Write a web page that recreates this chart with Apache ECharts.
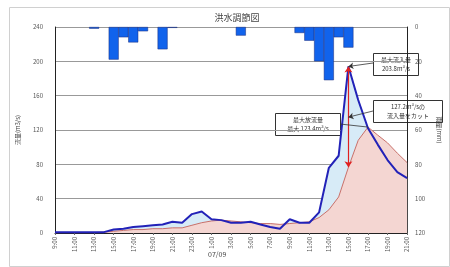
<!DOCTYPE html>
<html>
<head>
<meta charset="utf-8">
<script src="https://cdn.jsdelivr.net/npm/echarts@6/dist/echarts.min.js"></script>
<style>
html, body { margin: 0; padding: 0; background: #fff; }
#chart { width: 450px; height: 267px; }
</style>
</head>
<body>
<div id="chart"></div>
<script>
// 9:00 ～ 翌21:00 の毎時
const hours = []
for (let h = 9; h <= 45; h++) hours.push((h % 24) + ':00')

// 流入量 (m3/s)
const inflow = [1, 1, 1, 1, 1, 1, 4, 5, 7, 8, 9, 10, 13, 12, 22, 25, 16, 15, 12, 12,
  13, 10, 7, 5, 16, 12, 12, 24, 76, 90, 194, 155, 122, 103, 85, 71, 64]
// 放流量 (m3/s)
const outflow = [0.5, 0.5, 0.5, 0.5, 0.5, 1, 2, 3, 4, 4, 5, 5, 6, 6, 9, 12, 14, 15, 14, 13,
  12, 11, 11, 10, 11, 12, 13, 18, 27, 42, 76.6, 108, 123.4, 114, 105, 93, 82]
// 雨量 (mm)
const rain = [0, 0, 0, 0, 1, 0, 19, 6, 9, 2.5, 0, 13, 0.5, 0, 0, 0, 0, 0, 0, 5,
  0, 0, 0, 0, 0, 3.5, 8, 20, 31, 6, 12, 0, 0, 0, 0, 0, 0]

const leftTicks = { min: 0, max: 240, interval: 40 }
const rightTicks = { min: 0, max: 120, interval: 20 }

const font = '"Noto Sans CJK JP", "Noto Sans", sans-serif'
const peakIdx = inflow.indexOf(Math.max(...inflow))
const outPeakIdx = outflow.indexOf(Math.max(...outflow))

const chart = echarts.init(document.getElementById('chart'))

function box (x, y, w, h, text) {
  return {
    type: 'group',
    left: x,
    top: y,
    z: 100,
    children: [
      { type: 'rect', shape: { x: 0, y: 0, width: w, height: h }, style: { fill: '#fff', stroke: '#333', lineWidth: 1 } },
      { type: 'text', x: w / 2, y: h / 2, style: { text, fill: '#333', font: '6px ' + font, align: 'center', verticalAlign: 'middle', lineHeight: 9 } }
    ]
  }
}

const option = {
  animation: false,
  textStyle: { fontFamily: font },
  title: {
    text: '洪水調節図',
    left: 232,
    top: 8,
    textAlign: 'center',
    textStyle: { fontSize: 9, fontWeight: 'normal', color: '#444' }
  },
  grid: { left: 55, right: 33, top: 27, bottom: 34 },
  xAxis: {
    type: 'category',
    data: hours,
    boundaryGap: false,
    axisLine: { lineStyle: { color: '#222' } },
    axisTick: { interval: 1, length: 2, lineStyle: { color: '#666' } },
    axisLabel: { interval: 1, rotate: 90, fontSize: 6, color: '#555', margin: 4 }
  },
  yAxis: [
    {
      type: 'value',
      ...leftTicks,
      name: '流量(m3/s)',
      nameLocation: 'middle',
      nameGap: 34,
      nameRotate: 90,
      nameTextStyle: { fontSize: 6, color: '#444' },
      axisLine: { show: true, lineStyle: { color: '#222' } },
      axisTick: { show: false },
      axisLabel: { fontSize: 6, color: '#555', margin: 12 },
      splitLine: { lineStyle: { color: '#999' } }
    },
    {
      type: 'value',
      ...rightTicks,
      inverse: true,
      name: '雨量(mm)',
      nameLocation: 'middle',
      nameGap: 20,
      nameRotate: -90,
      nameTextStyle: { fontSize: 6, color: '#444' },
      axisLine: { show: true, lineStyle: { color: '#222' } },
      axisTick: { show: false },
      axisLabel: { fontSize: 6, color: '#555', margin: 8 },
      splitLine: { show: false }
    }
  ],
  series: [
    {
      name: '流入量面',
      type: 'line',
      data: inflow,
      symbol: 'none',
      lineStyle: { width: 0 },
      areaStyle: { color: '#d7ebf7', opacity: 1 },
      z: 1
    },
    {
      name: '放流量',
      type: 'line',
      data: outflow,
      symbol: 'none',
      lineStyle: { width: 1, color: '#c8706a' },
      areaStyle: { color: '#f4d6d2', opacity: 1 },
      z: 2,
      markLine: {
        silent: true,
        symbol: ['arrow', 'arrow'],
        symbolSize: 6,
        label: { show: false },
        lineStyle: { type: 'solid', color: '#e02020', width: 1.2 },
        data: [[{ coord: [peakIdx, inflow[peakIdx]] }, { coord: [peakIdx, outflow[peakIdx]] }]]
      }
    },
    {
      name: '流入量',
      type: 'line',
      data: inflow,
      symbol: 'none',
      lineStyle: { width: 2, color: '#2222b8' },
      z: 3,
      markLine: {
        silent: true,
        symbolSize: 5,
        label: { show: false },
        lineStyle: { type: 'solid', color: '#333', width: 0.8 },
        data: [
          [{ coord: [peakIdx, inflow[peakIdx]], symbol: 'arrow' }, { x: 373, y: 63, symbol: 'none' }],
          [{ coord: [peakIdx, 135], symbol: 'arrow' }, { x: 373, y: 111, symbol: 'none' }],
          [{ coord: [outPeakIdx, outflow[outPeakIdx]], symbol: 'none' }, { x: 340, y: 124, symbol: 'none' }]
        ]
      }
    },
    {
      name: '雨量',
      type: 'bar',
      yAxisIndex: 1,
      data: rain,
      barWidth: 10,
      itemStyle: { color: '#1163ec', borderColor: '#1a2a7a', borderWidth: 0.5 },
      z: 4
    }
  ],
  graphic: [
    { type: 'rect', left: 7, top: 5, shape: { width: 440, height: 259 }, style: { fill: 'none', stroke: '#d0d0d0', lineWidth: 1 }, silent: true },
    { type: 'text', left: 208, top: 251, style: { text: '07/09', fill: '#444', font: '7px ' + font } },
    box(373, 53, 45, 22, '最大流入量\n203.8m³/s'),
    box(373, 100, 69, 22, '127.2m³/sの\n流入量をカット'),
    box(275, 113, 65, 22, '最大放流量\n最大 123.4m³/s')
  ]
}

// 雨量0の棒は枠線を出さない
option.series[3].data = rain.map(v => v === 0 ? { value: 0, itemStyle: { borderWidth: 0 } } : v)

chart.setOption(option)
</script>
</body>
</html>
